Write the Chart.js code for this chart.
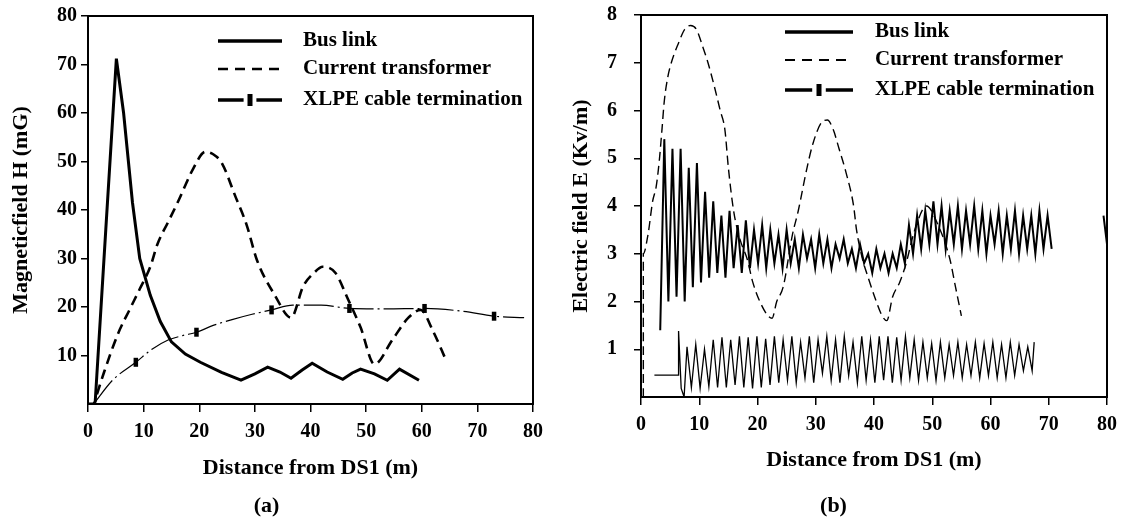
<!DOCTYPE html>
<html><head><meta charset="utf-8">
<script src="https://cdn.jsdelivr.net/npm/chart.js@4.4.1/dist/chart.umd.min.js"></script>
<style>
html,body{margin:0;padding:0;background:#fff;}
#wrap{position:relative;width:1121px;height:522px;overflow:hidden;background:#fff;}
.box{position:absolute;top:0;height:522px;}
</style></head><body>
<div id="wrap">
<div class="box" style="left:0;width:560px"><canvas id="ca"></canvas></div>
<div class="box" style="left:560px;width:561px"><canvas id="cb"></canvas></div>
</div>
<script>
// ---------- labels ----------
const seriesNames = ['Bus link', 'Current transformer', 'XLPE cable termination'];
const xTitle = 'Distance from DS1 (m)';
const yTitleA = 'Magneticfield H (mG)';
const yTitleB = 'Electric field E (Kv/m)';
const captionA = '(a)';
const captionB = '(b)';
const xTicks = [0, 10, 20, 30, 40, 50, 60, 70, 80];
const yTicksA = [10, 20, 30, 40, 50, 60, 70, 80];
const yTicksB = [1, 2, 3, 4, 5, 6, 7, 8];

// ---------- panel (a): magnetic field ----------
const busAX = [0, 1.0, 1.3, 3.2, 5.1, 6.4, 8.0, 9.3, 11.2, 13.0, 15.0, 17.5, 20.2, 24.0, 27.5, 30.0, 32.3, 34.5, 36.5, 38.5, 40.3, 43.0, 45.8, 47.5, 49.0, 51.5, 53.8, 56.0, 59.5];
const busAY = [0, 0, 0.5, 36, 71.2, 60, 41.5, 30, 22.4, 17, 12.8, 10.3, 8.6, 6.5, 4.9, 6.2, 7.6, 6.6, 5.3, 7.0, 8.4, 6.6, 5.1, 6.4, 7.2, 6.2, 4.9, 7.2, 4.9];

const ctAX = [1.6, 2.9, 5.4, 7.5, 9.3, 11.2, 12.5, 14.4, 16.3, 18.9, 21.1, 22.5, 24.0, 26.6, 28.5, 30.4, 33.6, 36.5, 38.7, 40.6, 42.2, 44.5, 46.7, 49.0, 51.5, 54.7, 57.6, 59.8, 62.0, 64.3];
const ctAY = [2, 6.6, 14.5, 19.5, 23.7, 28.3, 33, 37.5, 42, 48.5, 52, 51.5, 49.8, 42.5, 37, 29.6, 22.4, 17.8, 24.3, 27, 28.3, 27, 21.7, 15.8, 8.2, 13.2, 17.8, 19.4, 15.1, 9.2];

const xlAX = [1.0, 4.5, 8.6, 11.5, 14.4, 17.0, 19.5, 22.5, 25.9, 29.5, 33.0, 36.8, 41.9, 47.0, 53.5, 60.5, 67.5, 73.0, 78.4];
const xlAY = [0, 5.0, 8.6, 11.3, 13.2, 14.1, 14.8, 16.2, 17.4, 18.5, 19.4, 20.4, 20.4, 19.7, 19.6, 19.7, 19.1, 18.1, 17.8];
const xlMarkAX = [8.6, 19.5, 33.0, 47.0, 60.5, 73.0];
const xlMarkAY = [8.6, 14.8, 19.4, 19.7, 19.7, 18.1];

// ---------- panel (b): electric field ----------
const busBX = [2.3, 6.4, 6.45, 6.9, 7.4,
  7.9, 8.65, 9.4, 10.15, 10.9, 11.65, 12.4, 13.15, 13.9, 14.65,
  15.4, 16.15, 16.9, 17.65, 18.4, 19.15, 19.9, 20.65, 21.4, 22.15,
  22.9, 23.65, 24.4, 25.15, 25.9, 26.65, 27.4, 28.15, 28.9, 29.65,
  30.4, 31.15, 31.9, 32.65, 33.4, 34.15, 34.9, 35.65, 36.4, 37.15,
  37.9, 38.65, 39.4, 40.15, 40.9, 41.65, 42.4, 43.15, 43.9, 44.65,
  45.4, 46.15, 46.9, 47.65, 48.4, 49.15, 49.9, 50.65, 51.4, 52.15,
  52.9, 53.65, 54.4, 55.15, 55.9, 56.65, 57.4, 58.15, 58.9, 59.65,
  60.4, 61.15, 61.9, 62.65, 63.4, 64.15, 64.9, 65.65, 66.4, 67.15, 67.5];
const busBY = [0.46, 0.46, 1.38, 0.18, 0.0,
  1.05, 0.20, 1.10, 0.18, 1.00, 0.22, 1.20, 0.20, 1.25, 0.20,
  1.20, 0.25, 1.27, 0.20, 1.25, 0.18, 1.27, 0.20, 1.22, 0.25,
  1.27, 0.30, 1.20, 0.35, 1.27, 0.30, 1.15, 0.40, 1.27, 0.30,
  1.20, 0.50, 1.27, 0.35, 1.20, 0.30, 1.27, 0.45, 1.15, 0.30,
  1.27, 0.35, 1.20, 0.30, 1.27, 0.35, 1.27, 0.30, 1.25, 0.35,
  1.27, 0.40, 1.20, 0.35, 1.15, 0.40, 1.12, 0.35, 1.15, 0.40,
  1.10, 0.45, 1.15, 0.40, 1.10, 0.45, 1.15, 0.40, 1.12, 0.45,
  1.15, 0.40, 1.10, 0.40, 1.15, 0.45, 1.10, 0.55, 1.05, 0.55, 1.15];

const ctBX = [0.4, 0.4, 1.2, 2.0, 2.6, 3.1, 3.6, 4.0, 4.6, 5.2, 6.4, 7.5, 8.5, 9.5, 10.7, 11.5, 12.6, 13.6, 14.4, 15.0, 15.9, 17.0, 18.2, 19.2, 20.4, 21.8, 22.5, 23.3, 24.4, 26.0, 27.0, 28.5, 29.5, 31.0, 32.0, 33.0, 34.0, 35.2, 36.5, 37.0, 38.0, 39.0, 40.1, 41.4, 42.2, 43.2, 44.4, 45.4, 47.0, 49.0, 51.0, 53.0, 54.0, 55.0];
const ctBY = [0, 3.0, 3.4, 4.1, 4.4, 4.9, 5.6, 6.2, 6.7, 7.0, 7.4, 7.7, 7.78, 7.7, 7.3, 7.0, 6.5, 6.0, 5.6, 4.8, 3.9, 3.3, 2.9, 2.4, 2.0, 1.7, 1.65, 2.0, 2.3, 3.4, 3.9, 4.8, 5.3, 5.75, 5.8, 5.6, 5.2, 4.7, 4.0, 3.5, 2.9, 2.5, 2.1, 1.7, 1.6, 2.1, 2.4, 2.75, 3.5, 4.0, 3.6, 2.9, 2.3, 1.7];

const xlBX = [3.3, 4.0, 4.7, 5.4, 6.1, 6.8, 7.5, 8.2, 8.9, 9.6,
  10.3, 11.0, 11.7, 12.4, 13.1, 13.8, 14.5, 15.2, 15.9, 16.6,
  17.3, 18.0, 18.7, 19.4, 20.1, 20.8, 21.5, 22.2, 22.9, 23.6,
  24.3, 25.0, 25.7, 26.4, 27.1, 27.8, 28.5, 29.2, 29.9, 30.6,
  31.3, 32.0, 32.7, 33.4, 34.1, 34.8, 35.5, 36.2, 36.9, 37.6,
  38.3, 39.0, 39.7, 40.4, 41.1, 41.8, 42.5, 43.2, 43.9, 44.6,
  45.3, 46.0, 46.7, 47.4, 48.1, 48.8, 49.5, 50.2, 50.9, 51.6,
  52.3, 53.0, 53.7, 54.4, 55.1, 55.8, 56.5, 57.2, 57.9, 58.6,
  59.3, 60.0, 60.7, 61.4, 62.1, 62.8, 63.5, 64.2, 64.9, 65.6,
  66.3, 67.0, 67.7, 68.4, 69.1, 69.8, 70.5, 75.0, 79.4, 80.0];
const xlBY = [1.4, 5.4, 2.0, 5.2, 2.1, 5.2, 2.0, 4.8, 2.3, 4.9,
  2.4, 4.3, 2.5, 4.1, 2.6, 3.8, 2.5, 3.9, 2.7, 3.6,
  2.6, 3.7, 2.7, 3.5, 2.8, 3.6, 2.7, 3.5, 2.8, 3.4,
  2.7, 3.5, 2.8, 3.3, 2.7, 3.4, 2.9, 3.3, 2.7, 3.4,
  2.8, 3.3, 2.7, 3.2, 2.9, 3.3, 2.8, 3.1, 2.7, 3.2,
  2.8, 3.0, 2.6, 3.1, 2.7, 3.0, 2.6, 3.0, 2.7, 3.2,
  2.8, 3.6, 3.0, 3.8, 3.1, 3.9, 3.2, 4.1, 3.2, 4.0,
  3.1, 3.9, 3.2, 4.0, 3.1, 3.9, 3.2, 4.0, 3.1, 3.9,
  3.0, 3.8, 3.2, 3.9, 3.0, 3.8, 3.1, 3.9, 3.0, 3.8,
  3.1, 3.8, 3.0, 3.9, 3.1, 3.8, 3.1, null, 3.8, 3.2];

// ---------- helpers ----------
const pts = (xs, ys) => xs.map((x, i) => ({x: x, y: ys[i]}));
const FONT = "'Liberation Serif', 'Times New Roman', serif";
const f = (size) => ({family: FONT, size: size, weight: 'bold'});

const framePlugin = {
  id: 'frameLegend',
  afterDraw(chart, args, o) {
    const ctx = chart.ctx, a = chart.chartArea;
    ctx.save();
    ctx.strokeStyle = '#000';
    ctx.lineWidth = 2;
    ctx.setLineDash([]);
    ctx.strokeRect(a.left, a.top, a.right - a.left, a.bottom - a.top);
    // legend
    const x0 = a.left + o.x0, x1 = a.left + o.x1, tx = a.left + o.tx;
    const rows = o.rows.map(r => a.top + r);
    ctx.lineCap = 'butt';
    ctx.lineWidth = 3.5;
    ctx.beginPath(); ctx.moveTo(x0, rows[0]); ctx.lineTo(x1, rows[0]); ctx.stroke();
    ctx.lineWidth = o.ctW;
    ctx.setLineDash([10, 7]);
    ctx.beginPath(); ctx.moveTo(x0, rows[1]); ctx.lineTo(x1, rows[1]); ctx.stroke();
    ctx.setLineDash([]);
    const w = x1 - x0;
    ctx.lineWidth = 3.5;
    ctx.beginPath(); ctx.moveTo(x0, rows[2]); ctx.lineTo(x0 + w * 0.4, rows[2]);
    ctx.moveTo(x1 - w * 0.4, rows[2]); ctx.lineTo(x1, rows[2]); ctx.stroke();
    ctx.fillStyle = '#000';
    ctx.fillRect(x0 + w * 0.5 - 2.5, rows[2] - 6, 5, 12);
    ctx.font = 'bold ' + o.fs + 'px ' + FONT;
    ctx.textBaseline = 'middle';
    ctx.textAlign = 'left';
    seriesNames.forEach((s, i) => ctx.fillText(s, tx, rows[i]));
    ctx.restore();
  }
};

function makeChart(id, cfg) {
  return new Chart(document.getElementById(id), {
    type: 'line',
    data: {datasets: cfg.datasets},
    plugins: [framePlugin],
    options: {
      responsive: true, maintainAspectRatio: false, animation: false, devicePixelRatio: 1,
      layout: {padding: {top: cfg.padTop, right: cfg.padRight, left: 0, bottom: 0}},
      elements: {point: {radius: 0}, line: {tension: 0}},
      plugins: {
        legend: {display: false}, tooltip: {enabled: false},
        title: {display: true, position: 'bottom', text: cfg.caption, color: '#000', font: f(22), padding: {top: 0, bottom: 2}},
        frameLegend: cfg.legend
      },
      scales: {
        x: {
          type: 'linear', min: 0, max: 80,
          afterBuildTicks: s => { s.ticks = xTicks.map(v => ({value: v})); },
          ticks: {color: '#000', font: f(20), padding: cfg.xPad, maxRotation: 0, autoSkip: false},
          grid: {drawOnChartArea: false, color: '#000', lineWidth: 1.5, tickLength: 8},
          border: {color: '#000', width: 2},
          title: {display: true, text: xTitle, color: '#000', font: f(22), padding: {top: 0, bottom: cfg.xTitlePad}},
          afterFit: s => { s.height = cfg.xH; s.paddingLeft = 0; s.paddingRight = 0; }
        },
        y: {
          type: 'linear', min: 0, max: cfg.yMax,
          afterBuildTicks: s => { s.ticks = cfg.yTicks.map(v => ({value: v})); },
          ticks: {color: '#000', font: f(20), padding: cfg.yPad, autoSkip: false},
          grid: {drawOnChartArea: false, color: '#000', lineWidth: 1.5, tickLength: 7},
          border: {color: '#000', width: 2},
          title: {display: true, text: cfg.yTitle, color: '#000', font: f(22), padding: {top: 8, bottom: 0}},
          afterFit: s => { s.width = cfg.yW; s.paddingTop = 0; s.paddingBottom = 0; }
        }
      }
    }
  });
}

makeChart('ca', {
  caption: captionA, yTitle: yTitleA, yMax: 80, yTicks: yTicksA,
  padTop: 16, padRight: 27, xH: 89.6, yW: 88, xPad: 8, yPad: 4, xTitlePad: 12,
  legend: {x0: 130, x1: 194, tx: 215, rows: [25, 53, 84], fs: 21, ctW: 2.5},
  datasets: [
    {label: seriesNames[2], data: pts(xlAX, xlAY), borderColor: '#000', borderWidth: 1.2, borderDash: [30, 4, 2, 4], cubicInterpolationMode: 'monotone', pointRadius: 0},
    {label: seriesNames[1], data: pts(ctAX, ctAY), borderColor: '#000', borderWidth: 2.6, borderDash: [10, 6], cubicInterpolationMode: 'monotone', pointRadius: 0},
    {label: seriesNames[0], data: pts(busAX, busAY), borderColor: '#000', borderWidth: 3, tension: 0, pointRadius: 0},
    {label: 'markers', data: pts(xlMarkAX, xlMarkAY), showLine: false, pointStyle: 'line', rotation: 90, pointRadius: 4.5, pointBorderWidth: 4.5, pointBorderColor: '#000'}
  ]
});

makeChart('cb', {
  caption: captionB, yTitle: yTitleB, yMax: 8, yTicks: yTicksB,
  padTop: 15, padRight: 14, xH: 96.6, yW: 81, xPad: 8, yPad: 17, xTitlePad: 20,
  legend: {x0: 144, x1: 212, tx: 234, rows: [17, 45, 75], fs: 21, ctW: 1.8},
  datasets: [
    {label: seriesNames[1], data: pts(ctBX, ctBY), borderColor: '#000', borderWidth: 1.4, borderDash: [9, 5], cubicInterpolationMode: 'monotone', pointRadius: 0},
    {label: seriesNames[2], data: pts(xlBX, xlBY), borderColor: '#000', borderWidth: 2, pointRadius: 0, spanGaps: false},
    {label: seriesNames[0], data: pts(busBX, busBY), borderColor: '#000', borderWidth: 1.3, pointRadius: 0}
  ]
});
</script>
</body></html>
